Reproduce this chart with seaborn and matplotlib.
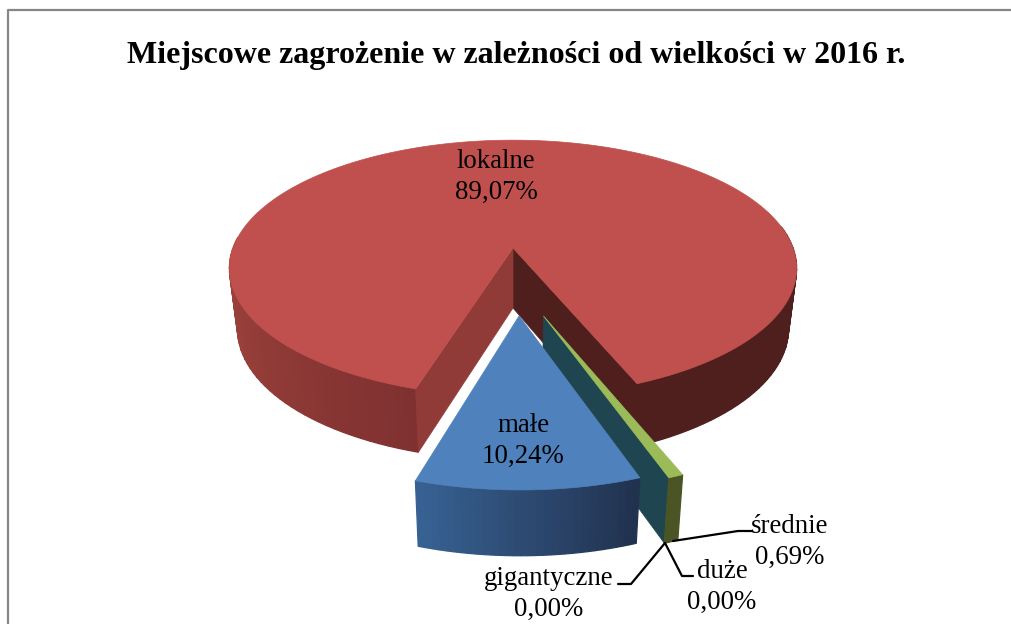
import matplotlib
matplotlib.use("Agg")
import matplotlib.pyplot as plt
import numpy as np
import seaborn as sns
from matplotlib.patches import Polygon

categories = ["gigantyczne", "duże", "średnie", "małe", "lokalne"]
values = [0.00, 0.00, 0.69, 10.24, 89.07]
title = "Miejscowe zagrożenie w zależności od wielkości w 2016 r."

# projection of the pie plane onto the canvas
CX, CY = 513, 248
TOP_X, TOP_Y = 280, 125
BOT_X, BOT_Y = 272, 128
DEPTH = 60
PERSP = 0.159
START = 157.8


def project(u, v, bottom=False):
    w = 1 - PERSP * v
    if bottom:
        return CX + BOT_X * u / w, CY + DEPTH + BOT_Y * v / w
    return CX + TOP_X * u / w, CY + TOP_Y * v / w


def rim(angles, off, radius, bottom=False):
    a = np.radians(angles)
    x, y = project(off[0] + radius * np.sin(a), off[1] - radius * np.cos(a), bottom)
    return np.column_stack([x, y])


def wall(ax, a0, a1, off, radius, colors):
    angles = np.linspace(a0, a1, len(colors) + 1)
    for i, c in enumerate(colors):
        seg = np.linspace(angles[i], angles[i + 1], 4)
        pts = np.vstack([rim(seg, off, radius), rim(seg[::-1], off, radius, True)])
        ax.add_patch(Polygon(pts, facecolor=c, edgecolor=c, lw=0.9))


def top(ax, a0, a1, off, radius, color):
    apex = np.column_stack(project(off[0], off[1]))
    pts = np.vstack([apex, rim(np.linspace(a0, a1, 200), off, radius)])
    ax.add_patch(Polygon(pts, facecolor=color, edgecolor=color, lw=0.5))


def cut(ax, angle, off, radius, color):
    pts = np.vstack([
        np.column_stack(project(off[0], off[1])),
        rim([angle], off, radius),
        rim([angle], off, radius, True),
        np.column_stack(project(off[0], off[1], True)),
    ])
    ax.add_patch(Polygon(pts, facecolor=color, edgecolor=color, lw=0.5))


sns.set_theme(style="white")
plt.rcParams["font.family"] = ["Liberation Serif", "DejaVu Serif"]

fig = plt.figure(figsize=(10.11, 6.24), dpi=100)
ax = fig.add_axes([0, 0, 1, 1])
ax.set_xlim(0, 1011)
ax.set_ylim(624, 0)
ax.axis("off")

sweep = np.array(values) / sum(values) * 360
edges = START + np.cumsum(sweep)
green_a0, green_a1 = edges[1], edges[2]
blue_a0, blue_a1 = edges[2], edges[3]
red_a0, red_a1 = edges[3], edges[4]

# lokalne
off = (0, 0)
wall(ax, 275, red_a0, off, 1, sns.blend_palette(["#a5473f", "#7f3131"], 40))
wall(ax, 80, red_a1 - 360, off, 1, ["#4f1f1e"] * 40)
cut(ax, red_a1, off, 1, "#4f1f1e")
cut(ax, red_a0, off, 1, "#913b39")
top(ax, red_a0, red_a1, off, 1, "#c0504d")

# średnie
off = (0.10, 0.50)
cut(ax, green_a1, off, 0.98, "#1f4650")
wall(ax, green_a0, green_a1, off, 0.98, ["#4a5424"])
top(ax, green_a0, green_a1, off, 0.98, "#9bbb59")

# małe
off = (0.02, 0.50)
wall(ax, blue_a0, blue_a1, off, 0.98, sns.blend_palette(["#21324f", "#376192"], 30))
top(ax, blue_a0, blue_a1, off, 0.98, "#4f81bd")

# frame, only the left and top sides show
ax.plot([8, 8, 1011], [640, 10, 10], color="#868686", lw=1.6)

ax.text(516, 56, title, ha="center", va="center", fontsize=23, fontweight="bold", color="black")


def label(i):
    return categories[i] + "\n" + f"{values[i]:.2f}".replace(".", ",") + "%"


label_x = [549, 722, 790, 523, 496]
label_y = [594, 587, 542, 441, 177]
for i in range(len(categories)):
    ax.text(label_x[i], label_y[i], label(i), ha="center", va="center",
            fontsize=19.4, linespacing=1.35, color="black")

ax.plot([665, 631, 618], [543, 584, 584], color="black", lw=1.6)
ax.plot([665, 682, 693], [543, 576, 576], color="black", lw=1.6)
ax.plot([673, 738, 752], [541, 531, 531], color="black", lw=1.6)

fig.savefig("out.png", dpi=100)
